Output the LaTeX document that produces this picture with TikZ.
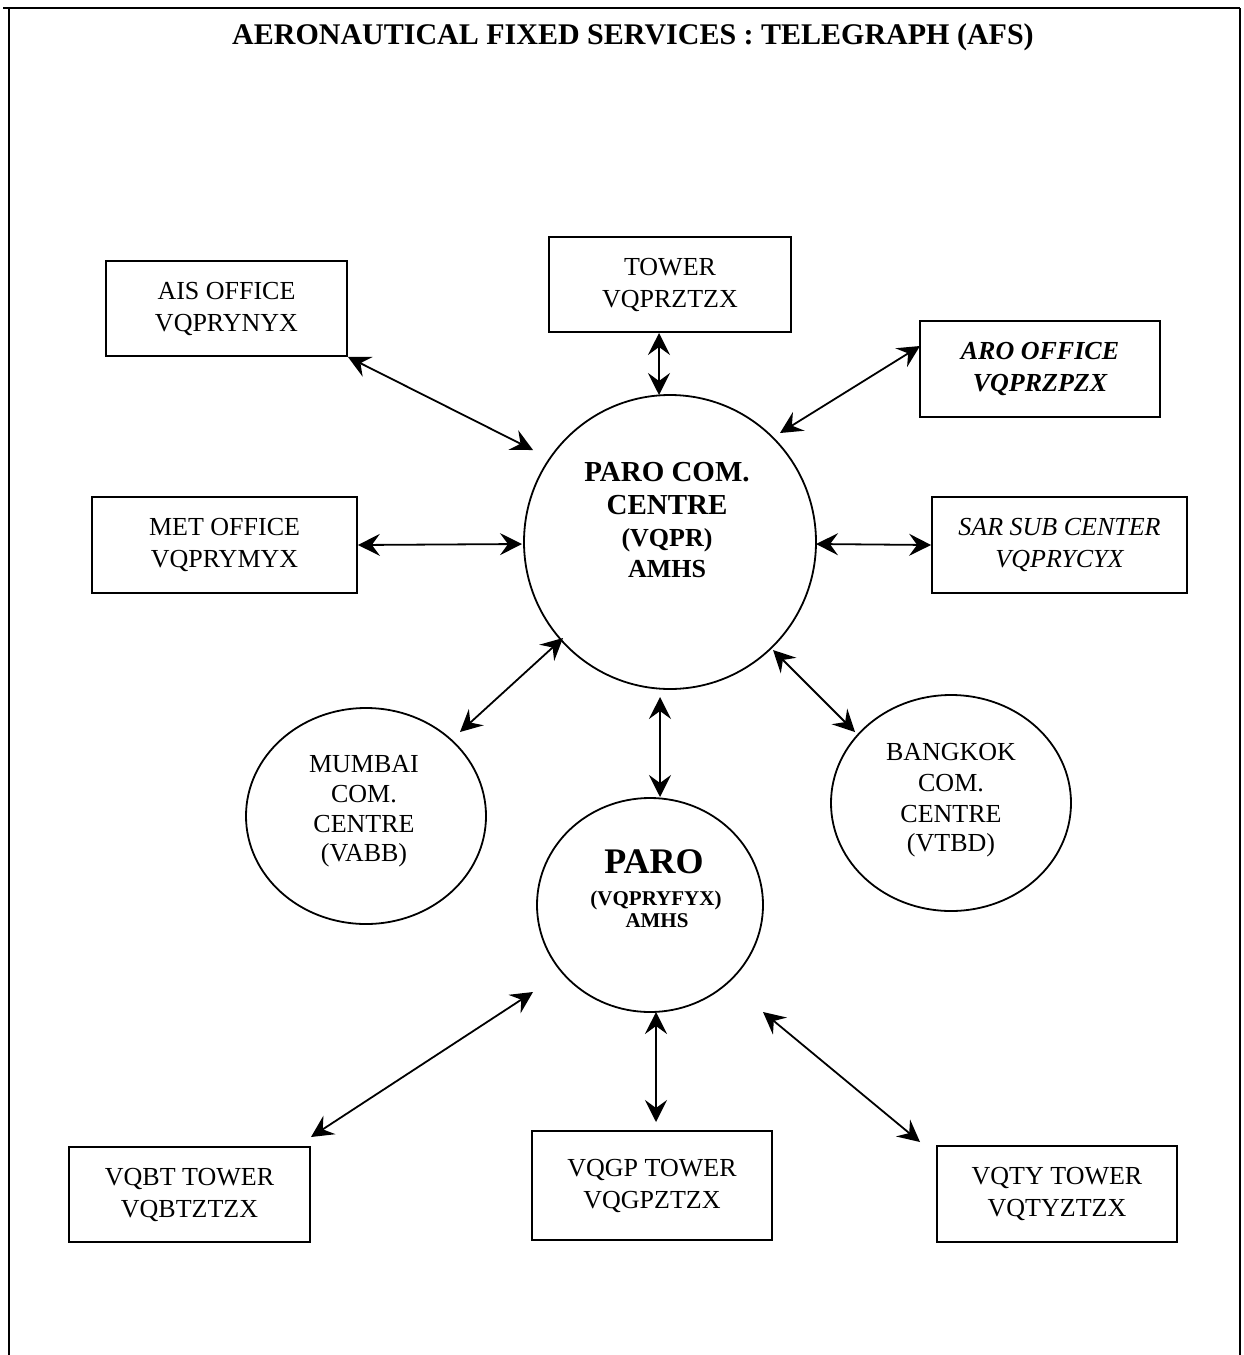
\documentclass[tikz,border=0pt]{standalone}
\usepackage{fontspec}
\setmainfont{Liberation Serif}
\usetikzlibrary{arrows.meta,shapes.geometric}
\begin{document}
\begin{tikzpicture}[x=0.5pt,y=-0.5pt,
 box/.style={draw,line width=0.9pt,inner sep=0pt,align=center,font=\fontsize{13pt}{16pt}\selectfont},
 oval/.style={draw,ellipse,line width=0.9pt,inner sep=0pt},
 txt/.style={anchor=base,inner sep=0pt,font=\fontsize{13pt}{16pt}\selectfont},
 btxt/.style={anchor=base,inner sep=0pt,font=\bfseries\fontsize{13pt}{16pt}\selectfont},
 tip/.tip={Stealth[length=11pt,width=11pt,inset=4pt]},
 bi/.style={{tip}-{tip},line width=0.9pt},
 frameline/.style={line width=1pt}]
\useasboundingbox (0,0) rectangle (1243,1355);
% frame
\draw[frameline] (3,8) -- (1193,8);
\draw[line width=0.6pt] (1193,8) -- (1240,8);
\draw[frameline] (8.5,8) -- (8.5,1355);
\draw[frameline] (1240,8) -- (1240,1355);
% title
\node[anchor=base,inner sep=0pt,font=\bfseries\fontsize{15pt}{18pt}\selectfont] (title) at (633,44) {AERONAUTICAL FIXED SERVICES : TELEGRAPH (AFS)};
% boxes
\node[box,minimum width=120.5pt,minimum height=47.5pt] (ais) at (226.5,308.5) {AIS OFFICE\\VQPRYNYX};
\node[box,minimum width=132.5pt,minimum height=48pt] (met) at (224.5,545) {MET OFFICE\\VQPRYMYX};
\node[box,minimum width=121pt,minimum height=47.5pt] (tower) at (670,284.5) {TOWER\\VQPRZTZX};
\node[box,minimum width=120pt,minimum height=48pt,font=\bfseries\itshape\fontsize{13pt}{16pt}\selectfont] (aro) at (1040,369) {ARO OFFICE\\VQPRZPZX};
\node[box,minimum width=127.5pt,minimum height=48pt,font=\itshape\fontsize{13pt}{16pt}\selectfont] (sar) at (1059.5,545) {SAR SUB CENTER\\VQPRYCYX};
\node[box,minimum width=120.5pt,minimum height=47.5pt] (vqbt) at (189.5,1194.5) {VQBT TOWER\\VQBTZTZX};
\node[box,minimum width=120pt,minimum height=54.5pt] (vqgp) at (652,1185.5) {VQGP TOWER\\VQGPZTZX};
\node[box,minimum width=120pt,minimum height=48pt] (vqty) at (1057,1194) {VQTY TOWER\\VQTYZTZX};
% ellipses
\node[oval,minimum width=146pt,minimum height=147pt] (com) at (670,542) {};
\node[oval,minimum width=113pt,minimum height=107pt] (paro) at (650,905) {};
\node[oval,minimum width=120pt,minimum height=108pt] (mum) at (366,816) {};
\node[oval,minimum width=120pt,minimum height=108pt] (bkk) at (951,803) {};
% texts in ellipses
\node[btxt,font=\bfseries\fontsize{14.5pt}{16pt}\selectfont] (com1) at (667,481) {PARO COM.};
\node[btxt,font=\bfseries\fontsize{14.5pt}{16pt}\selectfont] (com2) at (667,514) {CENTRE};
\node[btxt] (com3) at (667,546) {(VQPR)};
\node[btxt] (com4) at (667,577) {AMHS};
\node[btxt,font=\bfseries\fontsize{18pt}{20pt}\selectfont] (paro1) at (654,873) {PARO};
\node[btxt,font=\bfseries\fontsize{10.5pt}{12pt}\selectfont] (paro2) at (656,905) {(VQPRYFYX)};
\node[btxt,font=\bfseries\fontsize{10.5pt}{12pt}\selectfont] (paro3) at (657,927) {AMHS};
\node[txt] (mum1) at (364,772) {MUMBAI};
\node[txt] (mum2) at (364,802) {COM.};
\node[txt] (mum3) at (364,832) {CENTRE};
\node[txt] (mum4) at (364,861) {(VABB)};
\node[txt] (bkk1) at (951,760) {BANGKOK};
\node[txt] (bkk2) at (951,791) {COM.};
\node[txt] (bkk3) at (951,822) {CENTRE};
\node[txt] (bkk4) at (951,851) {(VTBD)};
% connector ends
\coordinate (cAis) at (533,450);
\coordinate (tTop) at (659,333);
\coordinate (cTop) at (659,395);
\coordinate (cAro) at (780,433);
\coordinate (aAro) at (920,346);
\coordinate (cMet) at (522,544);
\coordinate (cSar) at (816,544);
\coordinate (cMum) at (563,638);
\coordinate (mTip) at (460,732);
\coordinate (cBkk) at (773,650);
\coordinate (bTip) at (855,732);
\coordinate (cBot) at (660,697);
\coordinate (pTop) at (660,797);
\coordinate (pBt) at (533,992);
\coordinate (btTip) at (311,1137);
\coordinate (pGp) at (656,1012);
\coordinate (gpTip) at (656,1122);
\coordinate (pTy) at (763,1012);
\coordinate (tyTip) at (920,1142);
% connectors
\draw[bi] (ais.south east) -- (cAis);
\draw[bi] (tTop) -- (cTop);
\draw[bi] (cAro) -- (aAro);
\draw[bi] (met.east) -- (cMet);
\draw[bi] (cSar) -- (sar.west);
\draw[bi] (cMum) -- (mTip);
\draw[bi] (cBkk) -- (bTip);
\draw[bi] (cBot) -- (pTop);
\draw[bi] (pBt) -- (btTip);
\draw[bi] (pGp) -- (gpTip);
\draw[bi] (pTy) -- (tyTip);
\end{tikzpicture}
\end{document}
